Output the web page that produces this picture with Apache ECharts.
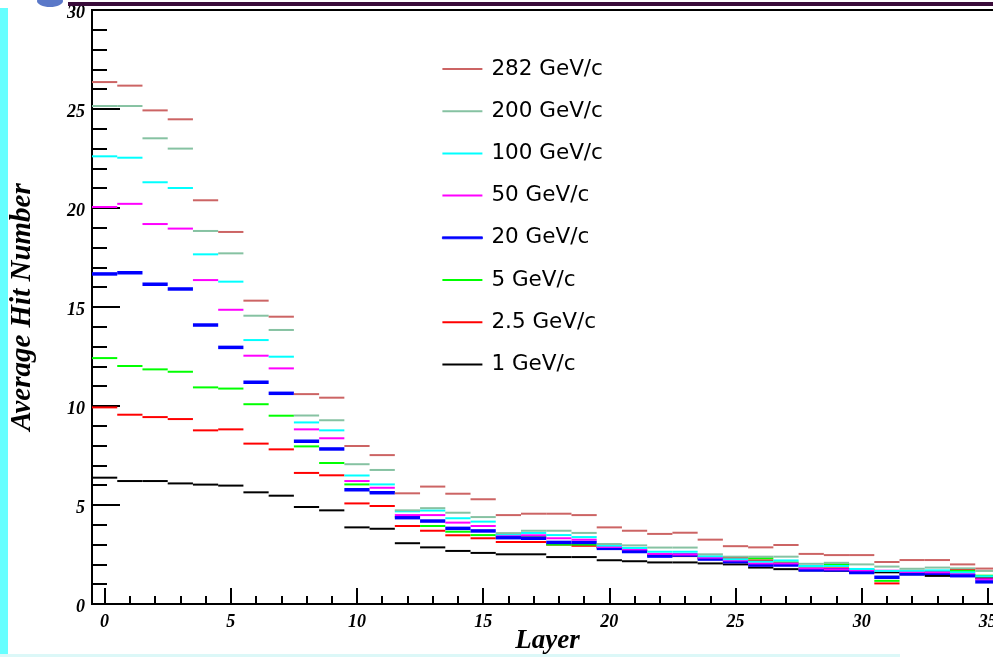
<!DOCTYPE html>
<html>
<head>
<meta charset="utf-8">
<title>Average Hit Number per Layer</title>
<script src="https://cdn.jsdelivr.net/npm/echarts@6/dist/echarts.min.js"></script>
<style>
  html, body { margin: 0; padding: 0; background: #ffffff; }
  #chart { width: 993px; height: 657px; }
</style>
</head>
<body>
<div id="chart"></div>
<script>
// Layer index (bin centres, bin width 1)
const layers = [0, 1, 2, 3, 4, 5, 6, 7, 8, 9, 10, 11, 12, 13, 14, 15, 16, 17,
  18, 19, 20, 21, 22, 23, 24, 25, 26, 27, 28, 29, 30, 31, 32, 33, 34, 35];

// Average hit number per layer for each beam momentum
const hits282 = [26.36, 26.18, 24.93, 24.48, 20.39, 18.79, 15.32, 14.51, 10.60, 10.42, 7.98, 7.52,
  5.59, 5.93, 5.57, 5.29, 4.49, 4.56, 4.56, 4.49, 3.87, 3.70, 3.54, 3.60, 3.25, 2.92, 2.86, 2.98,
  2.53, 2.47, 2.47, 2.12, 2.22, 2.22, 2.00, 1.79];
const hits200 = [25.15, 25.15, 23.52, 23.00, 18.84, 17.71, 14.56, 13.84, 9.52, 9.28, 7.06, 6.77,
  4.73, 4.84, 4.61, 4.39, 3.58, 3.70, 3.70, 3.59, 3.03, 2.96, 2.85, 2.85, 2.51, 2.39, 2.39, 2.39,
  2.03, 2.08, 2.00, 1.89, 1.78, 1.84, 1.80, 1.67];
const hits100 = [22.61, 22.54, 21.30, 21.01, 17.66, 16.28, 13.33, 12.49, 9.17, 8.77, 6.49, 6.04,
  4.68, 4.72, 4.33, 4.16, 3.52, 3.59, 3.48, 3.38, 2.95, 2.83, 2.64, 2.64, 2.41, 2.26, 2.14, 2.20,
  1.92, 1.92, 1.77, 1.67, 1.68, 1.70, 1.60, 1.40];
const hits50 = [20.05, 20.21, 19.19, 18.96, 16.36, 14.86, 12.54, 11.90, 8.82, 8.37, 6.21, 5.87,
  4.49, 4.49, 4.11, 3.94, 3.48, 3.47, 3.32, 3.25, 2.88, 2.76, 2.53, 2.50, 2.34, 2.20, 2.05, 2.05,
  1.80, 1.75, 1.70, 1.68, 1.62, 1.60, 1.55, 1.25];
const hits20 = [16.67, 16.73, 16.15, 15.91, 14.09, 12.96, 11.20, 10.64, 8.22, 7.83, 5.77, 5.62,
  4.36, 4.19, 3.82, 3.69, 3.35, 3.32, 3.11, 3.11, 2.81, 2.65, 2.42, 2.47, 2.27, 2.14, 1.97, 1.97,
  1.72, 1.72, 1.59, 1.35, 1.52, 1.55, 1.43, 1.12];
const hits5 = [12.42, 12.02, 11.85, 11.73, 10.94, 10.88, 10.09, 9.51, 7.96, 7.12, 6.04, 5.65,
  4.40, 3.94, 3.65, 3.48, 3.40, 3.38, 3.00, 3.00, 2.86, 2.70, 2.45, 2.45, 2.30, 2.20, 2.31, 2.10,
  1.80, 2.00, 1.75, 1.17, 1.60, 1.65, 1.67, 1.43];
const hits2p5 = [9.93, 9.56, 9.44, 9.34, 8.77, 8.82, 8.10, 7.81, 6.62, 6.50, 5.08, 4.95,
  3.94, 3.70, 3.47, 3.32, 3.13, 3.13, 3.00, 2.94, 2.84, 2.68, 2.45, 2.42, 2.30, 2.33, 2.20, 2.00,
  1.78, 1.80, 1.70, 1.04, 1.60, 1.60, 1.72, 1.40];
const hits1 = [6.38, 6.21, 6.21, 6.09, 6.03, 5.98, 5.64, 5.47, 4.90, 4.73, 3.87, 3.80,
  3.07, 2.86, 2.68, 2.58, 2.51, 2.51, 2.37, 2.37, 2.21, 2.16, 2.10, 2.10, 2.05, 2.00, 1.84, 1.76,
  1.70, 1.68, 1.60, 1.60, 1.50, 1.42, 1.45, 1.30];

// Labelled positions along the layer axis
const xMajorTicks = [0, 5, 10, 15, 20, 25, 30, 35];

const curves = [
  { name: '282 GeV/c', values: hits282, color: '#cc6464', width: 2 },
  { name: '200 GeV/c', values: hits200, color: '#86c2a2', width: 2 },
  { name: '100 GeV/c', values: hits100, color: '#00ffff', width: 2 },
  { name: '50 GeV/c',  values: hits50,  color: '#ff00ff', width: 2 },
  { name: '20 GeV/c',  values: hits20,  color: '#0000ff', width: 3.5 },
  { name: '5 GeV/c',   values: hits5,   color: '#00ff00', width: 2 },
  { name: '2.5 GeV/c', values: hits2p5, color: '#ff0000', width: 2 },
  { name: '1 GeV/c',   values: hits1,   color: '#000000', width: 2 }
];

const serifBoldItalic = {
  fontFamily: '"Liberation Serif", "DejaVu Serif", serif',
  fontStyle: 'italic',
  fontWeight: 'bold',
  color: '#000'
};

// Each bin is drawn as a flat segment one layer wide, centred on the layer
function binRenderer(color, width) {
  return function (params, api) {
    const x = api.value(0);
    const y = api.value(1);
    const a = api.coord([x - 0.5, y]);
    const b = api.coord([x + 0.5, y]);
    return {
      type: 'line',
      shape: { x1: a[0], y1: a[1], x2: b[0], y2: b[1] },
      style: { stroke: color, lineWidth: width }
    };
  };
}

// Drawn from lowest momentum upward so the high-momentum curves sit on top
const seriesList = curves.slice().reverse().map(c => ({
  name: c.name,
  type: 'custom',
  xAxisIndex: 0,
  yAxisIndex: 0,
  clip: true,
  itemStyle: { color: c.color },
  renderItem: binRenderer(c.color, c.width),
  encode: { x: 0, y: 1 },
  data: layers.map((l, i) => [l, c.values[i]])
}));

const chart = echarts.init(document.getElementById('chart'), null, { renderer: 'canvas' });

chart.setOption({
  animation: false,
  backgroundColor: '#ffffff',
  grid: {
    left: 92, right: -10, top: 10, bottom: 53,
    outerBoundsMode: 'none',
    containLabel: false,
    show: true, borderColor: '#000', borderWidth: 2, backgroundColor: '#ffffff'
  },
  legend: {
    orient: 'vertical',
    left: 442,
    top: 57,
    padding: 0,
    icon: 'rect',
    itemWidth: 40,
    itemHeight: 2,
    itemGap: 18.2,
    selectedMode: false,
    textStyle: {
      fontFamily: '"DejaVu Sans", sans-serif',
      fontSize: 21.5,
      lineHeight: 24,
      color: '#000',
      padding: [0, 0, 0, 4]
    },
    data: curves.map(c => c.name === '20 GeV/c'
      ? { name: c.name, itemStyle: { color: c.color, borderColor: c.color, borderWidth: 0.8 } }
      : { name: c.name })
  },
  xAxis: [
    {
      type: 'value',
      min: -0.5,
      max: 35.6,
      name: 'Layer',
      nameLocation: 'middle',
      nameGap: 24,
      nameMoveOverlap: false,
      nameTextStyle: Object.assign({ fontSize: 27 }, serifBoldItalic),
      axisLine: { show: true, onZero: false, lineStyle: { color: '#000', width: 2 } },
      axisTick: { show: true, inside: true, length: 16, customValues: xMajorTicks,
        lineStyle: { color: '#000', width: 2 } },
      axisLabel: Object.assign({ show: true, fontSize: 18, margin: 9, customValues: xMajorTicks },
        serifBoldItalic),
      splitLine: { show: false }
    },
    {
      type: 'value',
      min: -0.5,
      max: 35.6,
      position: 'bottom',
      axisLine: { show: false },
      axisTick: { show: true, inside: true, length: 8, customValues: layers,
        lineStyle: { color: '#000', width: 2 } },
      axisLabel: { show: false },
      splitLine: { show: false }
    }
  ],
  yAxis: {
    type: 'value',
    min: 0,
    max: 30,
    interval: 5,
    name: 'Average Hit Number',
    nameLocation: 'middle',
    nameGap: 55,
    nameMoveOverlap: false,
    nameTextStyle: Object.assign({ fontSize: 29 }, serifBoldItalic),
    axisLine: { show: true, onZero: false, lineStyle: { color: '#000', width: 2 } },
    axisTick: { show: true, inside: true, length: 28, lineStyle: { color: '#000', width: 2 } },
    minorTick: { show: true, splitNumber: 5, length: 15, lineStyle: { color: '#000', width: 2 } },
    axisLabel: Object.assign({ fontSize: 18, margin: 7, verticalAlign: 'top', lineHeight: 6 },
      serifBoldItalic),
    splitLine: { show: false },
    minorSplitLine: { show: false }
  },
  graphic: [
    { type: 'rect', z: 100, shape: { x: 0, y: 8, width: 8, height: 649 }, style: { fill: '#66ffff' } },
    { type: 'ellipse', z: 100, shape: { cx: 50, cy: 1, rx: 13, ry: 6 }, style: { fill: '#5a78c8' } },
    { type: 'rect', z: 100, shape: { x: 68, y: 2, width: 925, height: 4 }, style: { fill: '#3a0c3a' } },
    { type: 'rect', z: 100, shape: { x: 0, y: 654, width: 900, height: 3 }, style: { fill: '#dcf8f8' } }
  ],
  series: seriesList
});
</script>
</body>
</html>
